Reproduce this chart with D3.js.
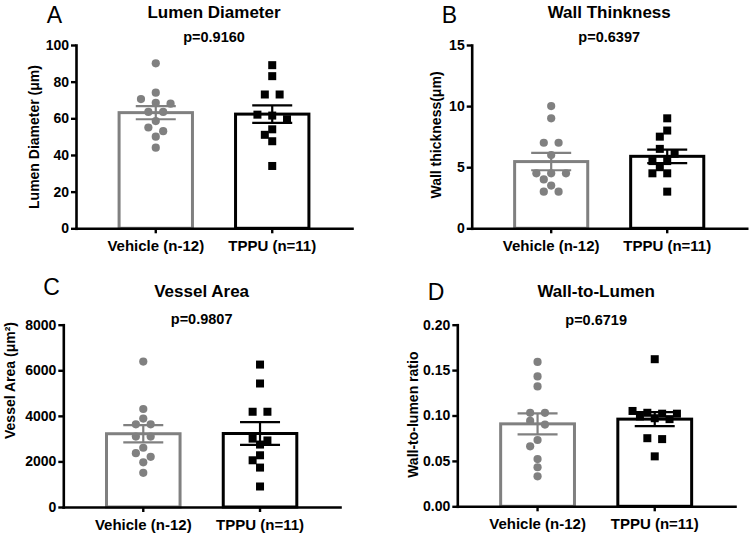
<!DOCTYPE html>
<html><head><meta charset="utf-8">
<script src="https://cdn.jsdelivr.net/npm/d3@7"></script>
<style>
body{margin:0;background:#fff}
svg{display:block}
text{font-family:"Liberation Sans",Arial,Helvetica,sans-serif}
</style>
</head><body>
<svg id="chart" width="750" height="536"></svg>
<script>
// ---------- DATA ----------
const groups = ["Vehicle (n-12)", "TPPU (n=11)"];

// Panel A: Lumen Diameter (µm)
const lumenVehicle = [90, 74, 70.5, 68.5, 68, 63.5, 63.5, 58.5, 55, 53, 50, 44];
const lumenTPPU    = [89, 83, 73, 73, 62, 61.5, 59.5, 54, 51, 47.5, 34];
const lumenMean    = [63.1, 62.3];
const lumenSEM     = [3.6, 4.8];
const lumenTicks   = [0, 20, 40, 60, 80, 100];

// Panel B: Wall thickness (µm)
const wallVehicle = [10, 9, 7, 7, 6, 4.5, 4.5, 4.5, 4, 3.5, 3, 3];
const wallTPPU    = [9, 8, 7.5, 6.5, 6.1, 5.5, 5.5, 5, 4.5, 4.5, 3];
const wallMean    = [5.46, 5.89];
const wallSEM     = [0.71, 0.55];
const wallTicks   = [0, 5, 10, 15];

// Panel C: Vessel Area (µm²)
const areaVehicle = [6380, 4300, 3880, 3630, 3630, 3090, 3090, 2600, 2360, 2200, 1960, 1500];
const areaTPPU    = [6250, 5420, 4180, 4180, 3000, 2920, 2740, 2270, 2050, 1730, 900];
const areaMean    = [3215, 3225];
const areaSEM     = [380, 500];
const areaTicks   = [0, 2000, 4000, 6000, 8000];

// Panel D: Wall-to-lumen ratio
const ratioVehicle = [0.159, 0.143, 0.132, 0.103, 0.103, 0.094, 0.090, 0.073, 0.066, 0.052, 0.043, 0.033];
const ratioTPPU    = [0.162, 0.105, 0.103, 0.102, 0.102, 0.099, 0.097, 0.096, 0.075, 0.074, 0.055];
const ratioMean    = [0.0908, 0.096];
const ratioSEM     = [0.0116, 0.0077];
const ratioTicks   = [0, 0.05, 0.10, 0.15, 0.20];

const panelLetters = ["A", "B", "C", "D"];
const panelTitles  = ["Lumen Diameter", "Wall Thinkness", "Vessel Area", "Wall-to-Lumen"];
const pValues      = ["p=0.9160", "p=0.6397", "p=0.9807", "p=0.6719"];
const yTitles      = ["Lumen Diameter (μm)", "Wall thickness(μm)", "Vessel Area (μm²)", "Wall-to-lumen ratio"];

// ---------- PANELS (data refs + layout) ----------
const panels = [
  {pts:[lumenVehicle, lumenTPPU], mean:lumenMean, sem:lumenSEM, ticks:lumenTicks, fmt:d3.format("d")},
  {pts:[wallVehicle, wallTPPU],   mean:wallMean,  sem:wallSEM,  ticks:wallTicks,  fmt:d3.format("d")},
  {pts:[areaVehicle, areaTPPU],   mean:areaMean,  sem:areaSEM,  ticks:areaTicks,  fmt:d3.format("d")},
  {pts:[ratioVehicle, ratioTPPU], mean:ratioMean, sem:ratioSEM, ticks:ratioTicks, fmt:d3.format(".2f")}
];
const layout = [
  {x0:76,    x1:352,   top:45,    bottom:228.3, lx:46.7,  ly:23.3,  ty:18.3,  py:41.7,  yx:39,   yy:137},
  {x0:471.7, x1:746.7, top:45,    bottom:228.3, lx:441.7, ly:23.3,  ty:18.3,  py:41.7,  yx:441,  yy:135},
  {x0:63.3,  x1:340,   top:324.7, bottom:507,   lx:43.3,  ly:294.5, ty:297.3, py:323.5, yx:14.5, yy:380.5},
  {x0:457.3, x1:735,   top:324.7, bottom:506.3, lx:427.7, ly:299.5, ty:297.3, py:325,   yx:418,  yy:414.7}
];
const colors = ["#808080", "#000000"];

// scatter layout (Prism-like rows)
function swarm(vals, y, spacing, T, dmin) {
  const pts = vals.map(v => ({v, py: y(v), dx: 0})).sort((a, b) => a.py - b.py);
  const rows = [];
  pts.forEach(p => {
    const r = rows[rows.length - 1];
    if (r && p.py - r[0].py <= T) r.push(p); else rows.push([p]);
  });
  const done = [];
  const collides = (row, placedRows) => row.some(p => placedRows.some(r => r.some(q =>
    Math.hypot(p.dx - q.dx, p.py - q.py) < dmin)));
  const place = (row, shift) => row.forEach((p, k) => p.dx = (k - (row.length - 1) / 2 + shift) * spacing);
  const tryPlace = (row) => {
    for (const s of [0, -0.5, 0.5, -1, 1]) { place(row, s); if (!collides(row, done)) return true; }
    return false;
  };
  rows.forEach(row => {
    if (tryPlace(row)) { done.push(row); return; }
    if (done.length) {
      const prev = done.pop();
      const merged = prev.concat(row).sort((a, b) => a.py - b.py);
      if (!tryPlace(merged)) place(merged, 0);
      done.push(merged);
    } else { place(row, 0); done.push(row); }
  });
  return pts;
}

const svg = d3.select("#chart");

panels.forEach((P, i) => {
  const L = layout[i];
  const g = svg.append("g");
  const x = d3.scaleBand().domain(groups).range([L.x0, L.x1]).paddingInner(0.37).paddingOuter(0.37);
  const y = d3.scaleLinear().domain([0, d3.max(P.ticks)]).range([L.bottom, L.top]);

  // bars
  g.selectAll("rect.bar").data(groups).join("rect")
    .attr("class", "bar")
    .attr("x", d => x(d))
    .attr("width", x.bandwidth())
    .attr("y", (d, j) => y(P.mean[j]))
    .attr("height", (d, j) => y(0) - y(P.mean[j]))
    .attr("fill", "#fff")
    .attr("stroke", (d, j) => colors[j])
    .attr("stroke-width", 3);

  // points
  groups.forEach((grp, j) => {
    const cx = x(grp) + x.bandwidth() / 2;
    const pts = swarm(P.pts[j], y, 14.8, 5, 8);
    if (j === 0) {
      g.append("g").selectAll("circle").data(pts).join("circle")
        .attr("cx", d => cx + d.dx).attr("cy", d => d.py).attr("r", 4.1)
        .attr("fill", colors[0]);
    } else {
      const s = 8;
      g.append("g").selectAll("rect").data(pts).join("rect")
        .attr("x", d => cx + d.dx - s / 2).attr("y", d => d.py - s / 2)
        .attr("width", s).attr("height", s).attr("fill", colors[1]);
    }
  });

  // error bars
  groups.forEach((grp, j) => {
    const cx = x(grp) + x.bandwidth() / 2;
    const m = P.mean[j], s = P.sem[j];
    const eg = g.append("g").attr("stroke", colors[j]).attr("stroke-width", 2.2);
    eg.append("line").attr("x1", cx).attr("x2", cx).attr("y1", y(m + s)).attr("y2", y(m - s));
    [m + s, m - s].forEach(v => eg.append("line")
      .attr("x1", cx - 20).attr("x2", cx + 20).attr("y1", y(v)).attr("y2", y(v)));
  });

  // axes
  const ya = g.append("g").attr("transform", `translate(${L.x0},0)`)
    .call(d3.axisLeft(y).tickValues(P.ticks).tickFormat(P.fmt).tickSize(5).tickSizeOuter(0).tickPadding(2));
  const xa = g.append("g").attr("transform", `translate(0,${L.bottom})`)
    .call(d3.axisBottom(x).tickSize(5).tickSizeOuter(0).tickPadding(7));
  [ya, xa].forEach(a => {
    a.select(".domain").attr("stroke", "#000").attr("stroke-width", 2.6).attr("stroke-linecap", "square");
    a.selectAll(".tick line").attr("stroke", "#000").attr("stroke-width", 2.4);
    a.selectAll("text").attr("fill", "#000").attr("font-weight", "bold")
      .attr("font-family", '"Liberation Sans", Arial, sans-serif');
  });
  ya.selectAll("text").attr("font-size", 14);
  xa.selectAll("text").attr("font-size", 15);

  const cxm = (L.x0 + L.x1) / 2;
  // panel letter
  g.append("text").attr("x", L.lx).attr("y", L.ly).attr("font-size", 23).text(panelLetters[i]);
  // title
  g.append("text").attr("x", cxm).attr("y", L.ty).attr("text-anchor", "middle")
    .attr("font-size", 17).attr("font-weight", "bold").text(panelTitles[i]);
  // p value
  g.append("text").attr("x", cxm).attr("y", L.py).attr("text-anchor", "middle")
    .attr("font-size", 14.5).attr("font-weight", "bold").text(pValues[i]);
  // y title
  g.append("text").attr("transform", `translate(${L.yx},${L.yy}) rotate(-90)`)
    .attr("text-anchor", "middle").attr("font-size", 14).attr("font-weight", "bold").text(yTitles[i]);
});
</script>
</body></html>
